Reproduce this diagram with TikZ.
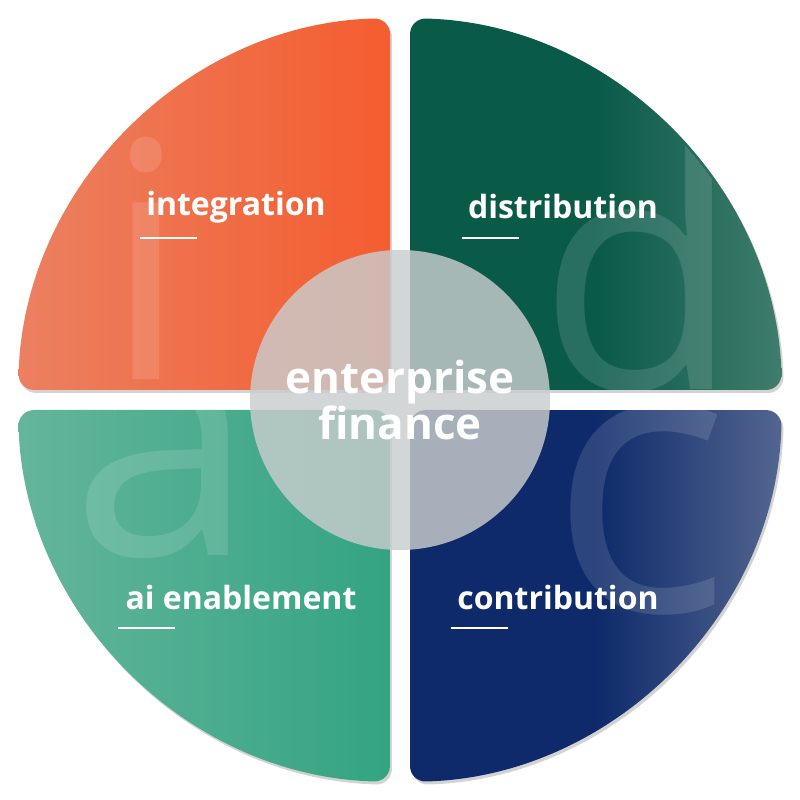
\documentclass[tikz,border=0pt]{standalone}
\usepackage{fontspec}
\setmainfont{Open Sans}
\usetikzlibrary{shadows,fadings}
\definecolor{orA}{HTML}{EB8061}\definecolor{orB}{HTML}{F45D2F}
\definecolor{dgA}{HTML}{0A5A48}\definecolor{dgB}{HTML}{3F7D6D}
\definecolor{tgA}{HTML}{64B59B}\definecolor{tgB}{HTML}{33A482}
\definecolor{nvA}{HTML}{0E2A6A}\definecolor{nvB}{HTML}{52668F}
\definecolor{ctr}{HTML}{C9CDCD}
\begin{document}
\begin{tikzpicture}[x=1pt,y=1pt,
  quad/.style={rounded corners=16, drop shadow={shadow xshift=2pt,shadow yshift=-3pt,opacity=.35}},
  lbl/.style={text=white,font=\bfseries\fontsize{32}{36}\selectfont},
  big/.style={text=white,opacity=.13,font=\fontsize{330}{330}\selectfont},
  uline/.style={white,line width=2.5pt}]
\useasboundingbox (0,0) rectangle (800,800);
\def\R{382}
\path[quad,left color=orA,right color=orB] (390,410) -- (390,781.9) arc[start angle=91.5,end angle=178.5,radius=\R] -- cycle;
\path[quad,left color=dgA!100,right color=dgB,middle color=dgA] (410,410) -- (781.9,410) arc[start angle=1.5,end angle=88.5,radius=\R] -- cycle;
\path[quad,left color=tgA,right color=tgB] (390,390) -- (18.1,390) arc[start angle=181.5,end angle=268.5,radius=\R] -- cycle;
\path[quad,left color=nvA,right color=nvB,middle color=nvA] (410,390) -- (410,18.1) arc[start angle=271.5,end angle=358.5,radius=\R] -- cycle;
\begin{scope}
\clip (390,410) -- (390,781.9) arc[start angle=91.5,end angle=178.5,radius=\R] -- cycle;
\node[big,anchor=base] (bi) at (146,420) {i};
\end{scope}
\begin{scope}
\clip (410,410) -- (781.9,410) arc[start angle=1.5,end angle=88.5,radius=\R] -- cycle;
\node[big,anchor=base] (bd) at (640,410) {d};
\end{scope}
\begin{scope}
\clip (390,390) -- (18.1,390) arc[start angle=181.5,end angle=268.5,radius=\R] -- cycle;
\node[big,anchor=base] (ba) at (163,244) {a};
\end{scope}
\begin{scope}
\clip (410,390) -- (410,18.1) arc[start angle=271.5,end angle=358.5,radius=\R] -- cycle;
\node[big,anchor=base,font=\fontsize{380}{380}\selectfont] (bc) at (640,188) {c};
\end{scope}
\fill[ctr,opacity=.82] (400,400) circle (150);
\node[text=white,align=center,font=\bfseries\fontsize{44}{41}\selectfont] (ef) at (400,400) {enterprise\\finance};
\node[lbl] (l1) at (236,593) {integration};
\node[lbl] (l2) at (563,593) {distribution};
\node[lbl] (l3) at (241,202) {ai enablement};
\node[lbl] (l4) at (558,202) {contribution};
\draw[uline] (140,562) -- (197,562);
\draw[uline] (462,562) -- (519,562);
\draw[uline] (118,172) -- (175,172);
\draw[uline] (451,172) -- (508,172);
\end{tikzpicture}
\end{document}
